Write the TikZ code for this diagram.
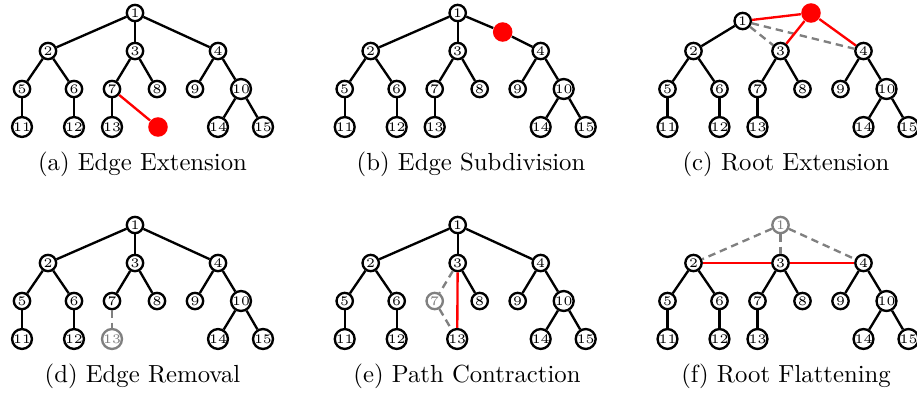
\documentclass[tikz,border=0pt]{standalone}
\begin{document}
\begin{tikzpicture}[x=0.4045pt,y=-0.4045pt,
  tn/.style={circle,draw=black,line width=0.95pt,fill=white,minimum size=6.6pt,inner sep=0pt,font=\fontsize{5.3}{5.3}\selectfont},
  gn/.style={tn,draw=gray,text=gray},
  rdot/.style={circle,fill=red,minimum size=7.9pt,inner sep=0pt},
  tedge/.style={line width=0.95pt,black},
  gedge/.style={line width=0.95pt,gray,dash pattern=on 3pt off 2pt},
  redge/.style={line width=0.95pt,red},
  captext/.style={anchor=base,inner sep=0pt,font=\fontsize{10}{12}\selectfont}]
\useasboundingbox (0,0) rectangle (917,394);
\def\common{2/48/51,3/135/51,4/218/51,5/22/89,6/74/89,8/157/89,9/195/89,10/241/89,11/22/127,12/74/127,14/218/127,15/263/127}
\def\commonedges{2/5,2/6,3/8,4/9,4/10,5/11,6/12,10/14,10/15}
% (a) Edge Extension
\begin{scope}[shift={(0,0)}]
  \foreach \n/\x/\y in \common {\node[tn] (a\n) at (\x,\y) {\n};}
  \node[tn] (a1) at (135,13) {1};
  \node[tn] (a7) at (112,89) {7};
  \node[tn] (a13) at (112,127) {13};
  \node[rdot] (ar) at (158,127) {};
  \foreach \p/\c in \commonedges {\draw[tedge] (a\p) -- (a\c);}
  \foreach \p/\c in {1/2,1/3,1/4,3/7,7/13} {\draw[tedge] (a\p) -- (a\c);}
  \draw[redge] (a7) -- (ar);
\end{scope}
% (b) Edge Subdivision
\begin{scope}[shift={(322.7,0)}]
  \foreach \n/\x/\y in \common {\node[tn] (b\n) at (\x,\y) {\n};}
  \node[tn] (b1) at (135,13) {1};
  \node[tn] (b7) at (112,89) {7};
  \node[tn] (b13) at (112,127) {13};
  \node[rdot] (br) at (180,32) {};
  \foreach \p/\c in \commonedges {\draw[tedge] (b\p) -- (b\c);}
  \foreach \p/\c in {1/2,1/3,3/7,7/13} {\draw[tedge] (b\p) -- (b\c);}
  \draw[tedge] (b1) -- (br);
  \draw[tedge] (br) -- (b4);
\end{scope}
% (c) Root Extension
\begin{scope}[shift={(645.5,0)}]
  \foreach \n/\x/\y in \common {\node[tn] (c\n) at (\x,\y) {\n};}
  \node[tn] (c1) at (97.2,21) {1};
  \node[tn] (c7) at (112,89) {7};
  \node[tn] (c13) at (112,127) {13};
  \node[rdot] (cr) at (165.5,13) {};
  \foreach \p/\c in \commonedges {\draw[tedge] (c\p) -- (c\c);}
  \foreach \p/\c in {1/2,3/7,7/13} {\draw[tedge] (c\p) -- (c\c);}
  \draw[gedge] (c1) -- (c3);
  \draw[gedge] (c1) -- (c4);
  \draw[redge] (cr) -- (c1);
  \draw[redge] (cr) -- (c3);
  \draw[redge] (cr) -- (c4);
\end{scope}
% (d) Edge Removal
\begin{scope}[shift={(0,212)}]
  \foreach \n/\x/\y in \common {\node[tn] (d\n) at (\x,\y) {\n};}
  \node[tn] (d1) at (135,13) {1};
  \node[tn] (d7) at (112,89) {7};
  \node[gn] (d13) at (112,127) {13};
  \foreach \p/\c in \commonedges {\draw[tedge] (d\p) -- (d\c);}
  \foreach \p/\c in {1/2,1/3,1/4,3/7} {\draw[tedge] (d\p) -- (d\c);}
  \draw[gedge] (d7) -- (d13);
\end{scope}
% (e) Path Contraction
\begin{scope}[shift={(322.7,212)}]
  \foreach \n/\x/\y in \common {\node[tn] (e\n) at (\x,\y) {\n};}
  \node[tn] (e1) at (135,13) {1};
  \node[gn] (e7) at (112,89) {7};
  \node[tn] (e13) at (134.5,127) {13};
  \foreach \p/\c in \commonedges {\draw[tedge] (e\p) -- (e\c);}
  \foreach \p/\c in {1/2,1/3,1/4} {\draw[tedge] (e\p) -- (e\c);}
  \draw[gedge] (e3) -- (e7);
  \draw[gedge] (e7) -- (e13);
  \draw[redge] (e3) -- (e13);
\end{scope}
% (f) Root Flattening
\begin{scope}[shift={(645.5,212)}]
  \foreach \n/\x/\y in \common {\node[tn] (f\n) at (\x,\y) {\n};}
  \node[gn] (f1) at (135,13) {1};
  \node[tn] (f7) at (112,89) {7};
  \node[tn] (f13) at (112,127) {13};
  \foreach \p/\c in \commonedges {\draw[tedge] (f\p) -- (f\c);}
  \foreach \p/\c in {3/7,7/13} {\draw[tedge] (f\p) -- (f\c);}
  \draw[gedge] (f1) -- (f2);
  \draw[gedge] (f1) -- (f3);
  \draw[gedge] (f1) -- (f4);
  \draw[redge] (f2) -- (f3);
  \draw[redge] (f3) -- (f4);
\end{scope}
% captions
\node[captext] (capa) at (142.5,170) {(a) Edge Extension};
\node[captext] (capb) at (471,170) {(b) Edge Subdivision};
\node[captext] (capc) at (786,170) {(c) Root Extension};
\node[captext] (capd) at (142.5,382) {(d) Edge Removal};
\node[captext] (cape) at (467,382) {(e) Path Contraction};
\node[captext] (capf) at (786,382) {(f) Root Flattening};
\end{tikzpicture}
\end{document}
